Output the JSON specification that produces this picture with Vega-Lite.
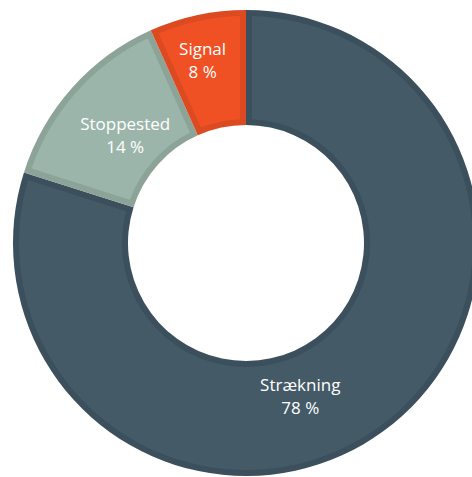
{
  "$schema": "https://vega.github.io/schema/vega-lite/v6.json",
  "autosize": "none",
  "width": 452,
  "height": 466,
  "padding": {"left": 20, "top": 10, "right": 0, "bottom": 0},
  "background": "white",
  "view": {"stroke": null},
  "data": {
    "values": [
      {"kategori": "Strækning", "andel": 79.9, "rang": 1, "etiket": "Strækning\n78 %"},
      {"kategori": "Stoppested", "andel": 13.4, "rang": 2, "etiket": "Stoppested\n14 %"},
      {"kategori": "Signal", "andel": 6.7, "rang": 3, "etiket": "Signal\n8 %"}
    ]
  },
  "encoding": {
    "theta": {"field": "andel", "type": "quantitative", "stack": true},
    "order": {"field": "rang", "type": "quantitative"}
  },
  "layer": [
    {
      "mark": {"type": "arc", "outerRadius": 233, "innerRadius": 118},
      "encoding": {
        "fill": {
          "field": "kategori",
          "type": "nominal",
          "scale": {"domain": ["Strækning", "Stoppested", "Signal"], "range": ["#3b4f5c", "#8ca398", "#dc4a22"]},
          "legend": null
        }
      }
    },
    {
      "mark": {"type": "arc", "outerRadius": 227, "innerRadius": 124, "padAngle": 0.0464},
      "encoding": {
        "color": {
          "field": "kategori",
          "type": "nominal",
          "scale": {"domain": ["Strækning", "Stoppested", "Signal"], "range": ["#445a67", "#9cb5aa", "#f05124"]},
          "legend": null
        }
      }
    },
    {
      "mark": {"type": "text", "radius": 190, "dy": -8, "thetaOffset": -0.02, "color": "white", "font": "Open Sans", "fontSize": 17, "lineBreak": "\n", "lineHeight": 23, "align": "center", "baseline": "middle"},
      "encoding": {
        "text": {"condition": {"test": "datum.kategori === 'Signal'", "field": "etiket"}, "value": ""}
      }
    },
    {
      "mark": {"type": "text", "radius": 162, "dy": -10, "color": "white", "font": "Open Sans", "fontSize": 17, "lineBreak": "\n", "lineHeight": 23, "align": "center", "baseline": "middle"},
      "encoding": {
        "text": {"condition": {"test": "datum.kategori === 'Stoppested'", "field": "etiket"}, "value": ""}
      }
    },
    {
      "mark": {"type": "text", "radius": 162, "thetaOffset": 0.29, "dy": -10, "color": "white", "font": "Open Sans", "fontSize": 17, "lineBreak": "\n", "lineHeight": 23, "align": "center", "baseline": "middle"},
      "encoding": {
        "text": {"condition": {"test": "datum.kategori === 'Strækning'", "field": "etiket"}, "value": ""}
      }
    }
  ]
}
